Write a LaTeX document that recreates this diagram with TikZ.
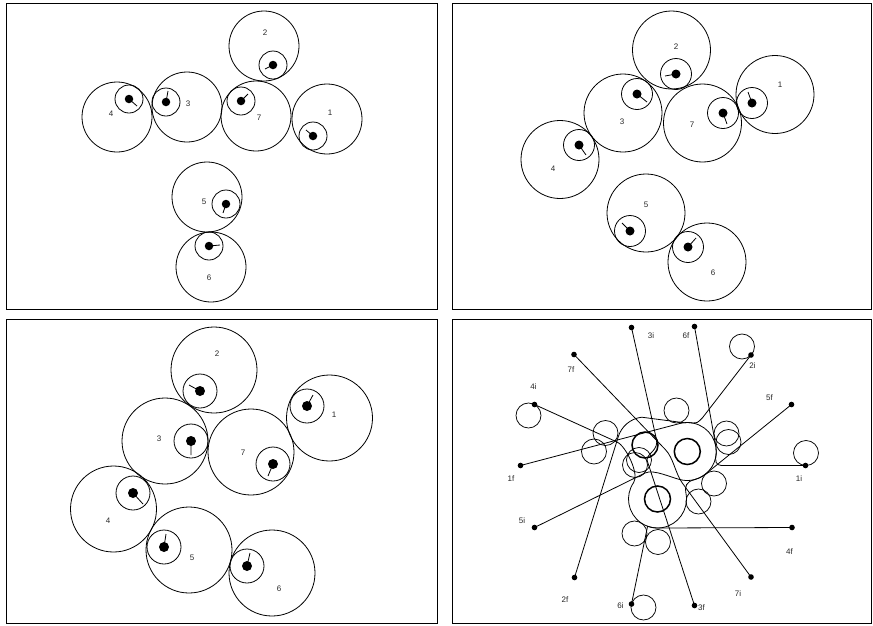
\documentclass[tikz,border=0pt]{standalone}
\usepackage{fontspec}
\setsansfont{Liberation Sans}
\usetikzlibrary{calc}

\begin{document}
\begin{tikzpicture}[x=1pt, y=-1pt,
    frame/.style={draw, line width=0.8pt},
    body/.style={circle, draw, line width=0.8pt, inner sep=0pt, minimum size=#1},
    wheel/.style={circle, draw, line width=0.8pt, inner sep=0pt, minimum size=#1},
    hub/.style={circle, fill, inner sep=0pt, minimum size=#1},
    num/.style={font=\sffamily\fontsize{8}{9}\selectfont, text=black!85, inner sep=0pt},
    spoke/.style={line width=0.8pt},
    spot/.style={circle, fill, inner sep=0pt, minimum size=5.6pt},
    ghost/.style={circle, draw, line width=0.75pt, inner sep=0pt, minimum size=25pt},
    core/.style={circle, draw, line width=1.5pt, inner sep=0pt, minimum size=26pt},
    track/.style={line width=0.8pt}]
    \useasboundingbox (0,0) rectangle (873,625);

    % frames
    \draw[frame] (6,3) rectangle (437,309);
    \draw[frame] (452,3) rectangle (871.5,309);
    \draw[frame] (6,319) rectangle (437,623.5);
    \draw[frame] (452,319) rectangle (871.5,623.5);

    % top left
    \node[body=70pt] (a1) at (327,119) {};
    \node[wheel=28pt] (wa1) at (313,136) {};
    \node[hub=8.5pt] (ha1) at (wa1) {};
    \coordinate (ta1) at (306,130);
    \node[num] (la1) at (330,113) {1};
    \node[body=70pt] (a2) at (264,46) {};
    \node[wheel=28pt] (wa2) at (273,65) {};
    \node[hub=8.5pt] (ha2) at (wa2) {};
    \coordinate (ta2) at (265,69);
    \node[num] (la2) at (265,33) {2};
    \node[body=70pt] (a3) at (187,107) {};
    \node[wheel=28pt] (wa3) at (166,102) {};
    \node[hub=8.5pt] (ha3) at (wa3) {};
    \coordinate (ta3) at (168,91);
    \node[num] (la3) at (188,104) {3};
    \node[body=70pt] (a4) at (117,117) {};
    \node[wheel=28pt] (wa4) at (129,99) {};
    \node[hub=8.5pt] (ha4) at (wa4) {};
    \coordinate (ta4) at (137,106);
    \node[num] (la4) at (111,114) {4};
    \node[body=70pt] (a5) at (207,197) {};
    \node[wheel=28pt] (wa5) at (226,204) {};
    \node[hub=8.5pt] (ha5) at (wa5) {};
    \coordinate (ta5) at (223,213);
    \node[num] (la5) at (204,202) {5};
    \node[body=70pt] (a6) at (211,267) {};
    \node[wheel=28pt] (wa6) at (209,246) {};
    \node[hub=8.5pt] (ha6) at (wa6) {};
    \coordinate (ta6) at (220,245);
    \node[num] (la6) at (209,278) {6};
    \node[body=70pt] (a7) at (256,116) {};
    \node[wheel=28pt] (wa7) at (241,101) {};
    \node[hub=8.5pt] (ha7) at (wa7) {};
    \coordinate (ta7) at (248,94);
    \node[num] (la7) at (259,118) {7};
    \draw[spoke] (ha1.center) -- (ta1) (ha2.center) -- (ta2) (ha3.center) -- (ta3)
        (ha4.center) -- (ta4) (ha5.center) -- (ta5) (ha6.center) -- (ta6) (ha7.center) -- (ta7);

    % top right
    \node[body=78pt] (b1) at (775,94.5) {};
    \node[wheel=31pt] (wb1) at (752,103) {};
    \node[hub=9pt] (hb1) at (wb1) {};
    \coordinate (tb1) at (748,92);
    \node[num] (lb1) at (780,85) {1};
    \node[body=78pt] (b2) at (671.5,50) {};
    \node[wheel=31pt] (wb2) at (676,74) {};
    \node[hub=9pt] (hb2) at (wb2) {};
    \coordinate (tb2) at (665,76);
    \node[num] (lb2) at (676,47) {2};
    \node[body=78pt] (b3) at (623,113) {};
    \node[wheel=31pt] (wb3) at (637,94) {};
    \node[hub=9pt] (hb3) at (wb3) {};
    \coordinate (tb3) at (647,102);
    \node[num] (lb3) at (622,122) {3};
    \node[body=78pt] (b4) at (560,159.5) {};
    \node[wheel=31pt] (wb4) at (579,145) {};
    \node[hub=9pt] (hb4) at (wb4) {};
    \coordinate (tb4) at (586,155);
    \node[num] (lb4) at (553,169) {4};
    \node[body=78pt] (b5) at (646,213) {};
    \node[wheel=31pt] (wb5) at (630,231) {};
    \node[hub=9pt] (hb5) at (wb5) {};
    \coordinate (tb5) at (622,223);
    \node[num] (lb5) at (646,205) {5};
    \node[body=78pt] (b6) at (707,262) {};
    \node[wheel=31pt] (wb6) at (688,247) {};
    \node[hub=9pt] (hb6) at (wb6) {};
    \coordinate (tb6) at (696,238);
    \node[num] (lb6) at (713,273) {6};
    \node[body=78pt] (b7) at (702.5,123) {};
    \node[wheel=31pt] (wb7) at (723,113) {};
    \node[hub=9pt] (hb7) at (wb7) {};
    \coordinate (tb7) at (727,124);
    \node[num] (lb7) at (692,125) {7};
    \draw[spoke] (hb1.center) -- (tb1) (hb2.center) -- (tb2) (hb3.center) -- (tb3)
        (hb4.center) -- (tb4) (hb5.center) -- (tb5) (hb6.center) -- (tb6) (hb7.center) -- (tb7);

    % bottom left
    \node[body=86pt] (c1) at (329.5,418) {};
    \node[wheel=34pt] (wc1) at (307,406) {};
    \node[hub=10pt] (hc1) at (wc1) {};
    \coordinate (tc1) at (313,395);
    \node[num] (lc1) at (334,415) {1};
    \node[body=86pt] (c2) at (214,370) {};
    \node[wheel=34pt] (wc2) at (200,391) {};
    \node[hub=10pt] (hc2) at (wc2) {};
    \coordinate (tc2) at (189,385);
    \node[num] (lc2) at (217,354) {2};
    \node[body=86pt] (c3) at (165,441) {};
    \node[wheel=34pt] (wc3) at (191,441) {};
    \node[hub=10pt] (hc3) at (wc3) {};
    \coordinate (tc3) at (191,455);
    \node[num] (lc3) at (159,439) {3};
    \node[body=86pt] (c4) at (113.5,509) {};
    \node[wheel=34pt] (wc4) at (133,493) {};
    \node[hub=10pt] (hc4) at (wc4) {};
    \coordinate (tc4) at (143,504);
    \node[num] (lc4) at (108,521) {4};
    \node[body=86pt] (c5) at (189,550) {};
    \node[wheel=34pt] (wc5) at (164,547) {};
    \node[hub=10pt] (hc5) at (wc5) {};
    \coordinate (tc5) at (166,534);
    \node[num] (lc5) at (192,558) {5};
    \node[body=86pt] (c6) at (272,573) {};
    \node[wheel=34pt] (wc6) at (247,566) {};
    \node[hub=10pt] (hc6) at (wc6) {};
    \coordinate (tc6) at (250,553);
    \node[num] (lc6) at (279,589) {6};
    \node[body=86pt] (c7) at (251,452) {};
    \node[wheel=34pt] (wc7) at (273,464) {};
    \node[hub=10pt] (hc7) at (wc7) {};
    \coordinate (tc7) at (268,476);
    \node[num] (lc7) at (243,453) {7};
    \draw[spoke] (hc1.center) -- (tc1) (hc2.center) -- (tc2) (hc3.center) -- (tc3)
        (hc4.center) -- (tc4) (hc5.center) -- (tc5) (hc6.center) -- (tc6) (hc7.center) -- (tc7);

    % bottom right: start and goal points
    \node[spot] (i1) at (805.5,465.5) {};
    \node[spot] (f1) at (520.5,465.5) {};
    \node[spot] (i2) at (751,355) {};
    \node[spot] (f2) at (574.5,577.5) {};
    \node[spot] (i3) at (631.5,327.5) {};
    \node[spot] (f3) at (694.5,605.5) {};
    \node[spot] (i4) at (534.5,404.5) {};
    \node[spot] (f4) at (792,527.5) {};
    \node[spot] (i5) at (534.5,527.5) {};
    \node[spot] (f5) at (791.5,404.5) {};
    \node[spot] (i6) at (631.5,604) {};
    \node[spot] (f6) at (694.5,326.5) {};
    \node[spot] (i7) at (751,577) {};
    \node[spot] (f7) at (574,354.5) {};
    \node[num] (li1) at (799,479) {1i};
    \node[num] (lf1) at (511,478.5) {1f};
    \node[num] (li2) at (752.5,366) {2i};
    \node[num] (lf2) at (565,600) {2f};
    \node[num] (li3) at (651,336) {3i};
    \node[num] (lf3) at (701.5,608) {3f};
    \node[num] (li4) at (533.5,387) {4i};
    \node[num] (lf4) at (789.5,552) {4f};
    \node[num] (li5) at (522,521) {5i};
    \node[num] (lf5) at (769.5,398) {5f};
    \node[num] (li6) at (620.5,605.5) {6i};
    \node[num] (lf6) at (686,336) {6f};
    \node[num] (li7) at (738,594) {7i};
    \node[num] (lf7) at (571,370) {7f};

    \node[ghost] (g1) at (806,453) {};
    \node[ghost] (g2) at (742,346.5) {};
    \node[ghost] (g4) at (528.5,415.5) {};
    \node[ghost] (g6) at (643.5,607.5) {};
    \node[ghost] (gt) at (676.5,410.5) {};
    \node[ghost] (gl1) at (605.5,433) {};
    \node[ghost] (gl2) at (594,451.5) {};
    \node[ghost] (gr1) at (726.5,433.5) {};
    \node[ghost] (gr2) at (728.5,442) {};
    \node[ghost] (gd1) at (714,483.5) {};
    \node[ghost] (gd2) at (698.5,501.5) {};
    \node[ghost] (gb1) at (634.5,533.5) {};
    \node[ghost] (gb2) at (658,542) {};
    \node[ghost] (gm1) at (635,465) {};
    \node[ghost] (gm2) at (639,460) {};

    \node[core] (kA) at (645,445) {};
    \node[core] (kB) at (687.3,451.5) {};
    \node[core] (kC) at (657.5,499) {};

    % paths
    \draw[track] (i1.center) -- ($(kB)+(34.07,14)$) arc[start angle=90, end angle=193.2, radius=6]
        arc[start angle=13.2, end angle=-105, radius=29] -- (f1.center);
    \draw[track] (i2.center) -- ($(kB)+(-80:29)+(10,-5)$) .. controls +(-5,5) and +(5,0) .. ($(kB)+(-80:29)$)
        arc[start angle=-80, end angle=-96.8, radius=29] -- ($(kA)+(-96.8:28)$)
        arc[start angle=-96.8, end angle=-163.8, radius=28] -- (f2.center);
    \draw[track] (i3.center) -- ($(kA)+(-30:13)$) .. controls +(3,12) and +(0,-7) .. ($(kA)+(2,15)$) -- (f3.center);
    \draw[track] (i4.center) -- ($(kA)+(-28,-3)$) .. controls +(9,4) and +(5.7,-8.2) .. ($(kC)+(215:29)$)
        arc[start angle=215, end angle=90, radius=29] -- (f4.center);
    \draw[track] (i5.center) -- ($(kA)+(0,28)$) .. controls +(9,-4.3) and +(-10,-1.7) .. ($(kB)+(100:29)$)
        arc[start angle=100, end angle=52, radius=29] -- (f5.center);
    \draw[track] (f6.center) -- ($(kB)+(-9.7:29)$) arc[start angle=-9.7, end angle=75, radius=29]
        .. controls +(-9,2.4) and +(-1.4,-7.9) .. ($(kC)+(-10:29)$)
        arc[start angle=-10, end angle=110, radius=29] -- (i6.center);
    \draw[track] (f7.center) -- ($(kB)+(-22,-2)$) .. controls +(8,8) and +(-7,-9.7) .. ($(kB)+(-5,31.5)$) -- (i7.center);
\end{tikzpicture}
\end{document}
